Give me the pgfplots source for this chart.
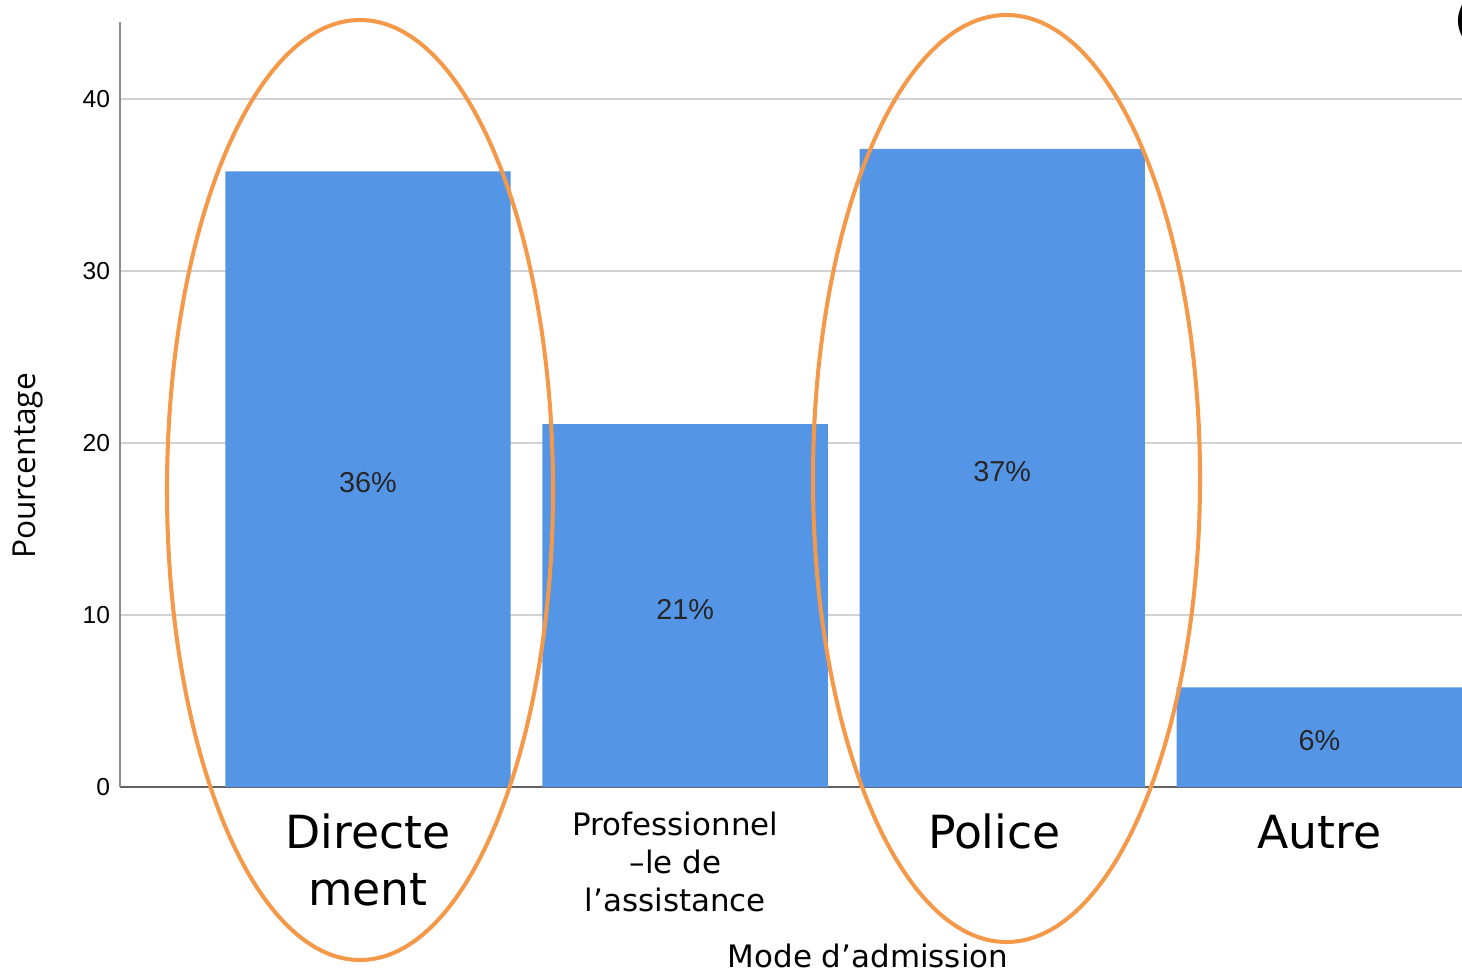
\documentclass[border=0pt]{standalone}
\usepackage{pgfplots}
\pgfplotsset{compat=1.18}
\usepackage{fontspec}
\setmainfont{DejaVu Sans}
\newfontfamily\arialfont{Liberation Sans}
\newfontfamily\opensans{Open Sans}
\definecolor{barblue}{HTML}{5595E5}
\definecolor{ringorange}{HTML}{F4994A}
\definecolor{gridgray}{HTML}{D2D2D2}
% stacked category label in a given size and leading
\newcommand\catlabel[3]{{\fontsize{#1}{#2}\selectfont\begin{tabular}{@{}c@{}}#3\end{tabular}}}

\begin{document}
\begin{tikzpicture}[x=1cm,y=1cm]
\useasboundingbox (-1.2,-1.86) rectangle (13.42,7.87);
\clip (-1.2,-1.86) rectangle (13.42,7.87);
\begin{axis}[
  at={(0,0)}, anchor=south west,
  scale only axis, width=13.42cm, height=7.65cm,
  xmin=-0.782, xmax=3.45, ymin=0, ymax=44.48,
  ybar, bar width=0.9,
  axis x line=bottom, axis y line=left,
  x axis line style={-, draw=black!62, line width=0.6pt},
  y axis line style={-, draw=black!45, line width=0.6pt},
  ytick={0,10,20,30,40}, ymajorgrids,
  grid style={gridgray, line width=0.55pt},
  major tick length=0pt,
  /pgf/number format/assume math mode=true,
  yticklabel style={font=\arialfont\fontsize{7}{8}\selectfont, xshift=0.7pt},
  xtick={0,1,2,3},
  xticklabels={
    {\catlabel{13}{16.2}{Directe\\ment}},
    {\catlabel{8.8}{10.8}{Professionnel\\–le de\\l’assistance}\hspace*{0.55em}},
    {\catlabel{13}{16.2}{Police}\hspace*{0.45em}},
    {\catlabel{13}{16.2}{Autre}}},
  xticklabel style={anchor=north, inner sep=0pt, yshift=-6pt},
  clip=true,
]
\addplot[ybar, fill=barblue, draw=none,
  nodes near coords={\pgfmathprintnumber[fixed,precision=0]{\pgfplotspointmeta}\%},
  visualization depends on=y \as \rawy,
  every node near coord/.append style={anchor=center,
    shift={(axis direction cs:0,-\rawy/2)}, yshift=-1pt,
    font=\arialfont\fontsize{8.2}{9}\selectfont, text=black!85}]
  coordinates {(0,35.8) (1,21.1) (2,37.1) (3,5.8)};
\end{axis}
% highlight rings around the two largest categories
\draw[ringorange, line width=1.15pt] (2.40,2.97) ellipse [x radius=1.93, y radius=4.70];
\draw[ringorange, line width=1.15pt] (8.865,3.085) ellipse [x radius=1.935, y radius=4.635];
\node[font=\opensans\fontsize{9}{10}\selectfont, rotate=90] at (-0.92,3.21) {Pourcentage};
\node[anchor=base, font=\fontsize{8.8}{10}\selectfont, inner sep=0pt] at (7.48,-1.80) {Mode d’admission};
\node[anchor=west, inner sep=0pt, font=\fontsize{13}{15}\selectfont] at (13.34,7.66) {(};
\end{tikzpicture}
\end{document}
